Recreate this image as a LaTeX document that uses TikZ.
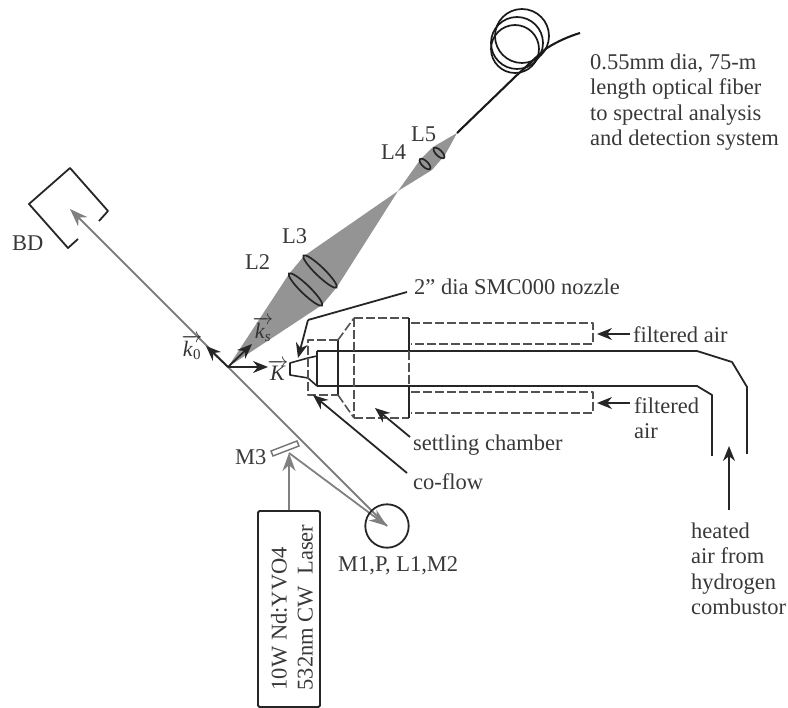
\documentclass[tikz,border=0pt]{standalone}
\usepackage{fontspec}
\setmainfont{Liberation Serif}
\usetikzlibrary{arrows.meta}
\tikzset{
 lab/.style={inner sep=0pt,anchor=west,font=\fontsize{22.5}{25.4}\selectfont,text=black!78,align=left},
 ink/.style={line width=1.8pt,draw=black!85,line join=round},
 dsh/.style={line width=1.6pt,draw=black!68,dash pattern=on 9pt off 3pt,line join=round},
 thin/.style={line width=1.6pt,draw=black!85,line join=round},
 blk/.style={-{Stealth[length=15pt,width=12pt]},line width=1.8pt,draw=black!85},
 gry/.style={-{Stealth[length=18pt,width=13pt]},line width=1.8pt,draw=black!50},
 lens/.style={line width=1.7pt,draw=black!85,fill=black!42},
 mth/.style={inner sep=0pt,font=\fontsize{22}{26}\selectfont,text=black!80},
}
\begin{document}
\begin{tikzpicture}[x=1pt,y=-1pt]
\useasboundingbox (0,0) rectangle (788,708);
% named points
\coordinate (O) at (228,367);
\coordinate (BDtip) at (70,209);
\coordinate (C) at (387,526);
\coordinate (Mir) at (289,453);
% beams
\fill[black!42] (O) -- (289,274) -- (304,256) -- (398,191) -- (337,287) -- (322,305) -- cycle;
\fill[black!42] (398,191) -- (420,160) -- (433,147) -- (457,133) -- (445,155) -- (432,170) -- cycle;
\draw[gry] (C) -- (BDtip);
\draw[gry] (Mir) -- (C);
% lenses
\draw[lens,rotate around={-44:(320,271.5)}] (320,271.5) ellipse (23pt and 4.5pt);
\draw[lens,rotate around={-44:(305.5,289.5)}] (305.5,289.5) ellipse (23pt and 4.5pt);
\draw[lens,rotate around={-44:(439,153)}] (439,153) ellipse (7pt and 3pt);
\draw[lens,rotate around={-44:(425,164)}] (425,164) ellipse (7pt and 3pt);
% fibre
\draw[line width=2.1pt,draw=black!90] (457,133) -- (517,75) .. controls (525,68) and (538,55) .. (547,48) .. controls (558,41) and (570,36) .. (580,33);
\draw[line width=1.7pt,draw=black!90] (522,36) circle (27pt);
\draw[line width=1.7pt,draw=black!90] (517,43) circle (26pt);
\draw[line width=1.7pt,draw=black!90] (515,49) circle (24pt);
% beam dump
\draw[ink] (99,221) -- (108,211) -- (70,168) -- (29,204) -- (68,248) -- (78,239);
% nozzle and pipes
\draw[thin] (317,356) -- (308,358) -- (290,363) -- (290,375) -- (308,378) -- (317,386);
\draw[ink] (317,386) -- (317,351);
\draw[ink] (317,351) -- (697,351) -- (732,362) -- (747,387) -- (747,454);
\draw[ink] (317,386) -- (697,386) -- (712,395) -- (712,456);
\draw[thin] (338,340) -- (338,395);
% dashed housings
\draw[dsh] (338,340) -- (308,340) -- (308,395) -- (338,395);
\draw[dsh] (338,340) -- (354,318);
\draw[dsh] (338,395) -- (354,418);
\draw[dsh] (354,318) -- (409,318);
\draw[dsh] (354,418) -- (409,418);
\draw[dsh] (354,318) -- (354,418);
\draw[thin] (409,318) -- (409,351);
\draw[dsh] (409,351) -- (409,386);
\draw[thin] (409,386) -- (409,418);
\draw[dsh] (411,323) -- (593,323) -- (593,344) -- (411,344);
\draw[dsh] (411,392) -- (593,392) -- (593,413) -- (411,413);
% laser and mirror
\node[draw=black!85,line width=1.8pt,rounded corners=1.5pt,minimum width=62pt,minimum height=196pt,inner sep=0pt] (laser) at (289,609) {};
\node[rotate=90,inner sep=0pt,font=\fontsize{22.5}{26}\selectfont,text=black!78,align=left] (lasertext) at (292,607.5) {10W Nd:YVO4\\532nm CW\ \ Laser};
\draw[line width=1.4pt,draw=black!55,fill=white] (271,451) -- (297,441) -- (299,446) -- (273,456) -- cycle;
\draw[gry] (laser.north -| Mir) -- (Mir);
\draw[line width=1.8pt,draw=black!85] (C) circle (21.7pt);
% vectors
\draw[blk] (O) -- (206,346);
\draw[blk] (O) -- (252,344);
\draw[blk] (O) -- (268,367);
% leaders
\draw[ink] (407,292) -- (308,320);
\draw[blk] (308,320) -- (298,358);
\draw[blk] (410,437) -- (375,408);
\draw[blk] (407,473) -- (313,395);
\draw[blk] (630,334) -- (597,334);
\draw[blk] (630,403) -- (597,403);
\draw[blk] (729,510) -- (729,446);
% labels
\node[lab] at (590,102) {0.55mm dia, 75-m\\length optical fiber\\to spectral analysis\\and detection system};
\node[lab] at (411,134) {L5};
\node[lab] at (381,152) {L4};
\node[lab] at (282,236) {L3};
\node[lab] at (245,262) {L2};
\node[lab] at (12,243) {BD};
\node[lab] at (414,287) {2'' dia SMC000 nozzle};
\node[lab] at (633,335) {filtered air};
\node[lab] at (634,418) {filtered\\air};
\node[lab] at (413,445) {settling chamber};
\node[lab] at (413,482) {co-flow};
\node[lab] at (235,457) {M3};
\node[lab] at (338,566) {M1,P, L1,M2};
\node[lab] at (691,569) {heated\\air from\\hydrogen\\combustor};
\node[mth] at (192,347) {$\overrightarrow{\mbox{\textit{k}}_{\mbox{\fontsize{15}{15}\selectfont 0}}}$};
\node[mth] at (263,329) {$\overrightarrow{\mbox{\textit{k}}_{\mbox{\fontsize{15}{15}\selectfont\textit{s}}}}$};
\node[mth] at (278,370) {$\overrightarrow{\mbox{\textit{K}}}$};
\end{tikzpicture}
\end{document}
